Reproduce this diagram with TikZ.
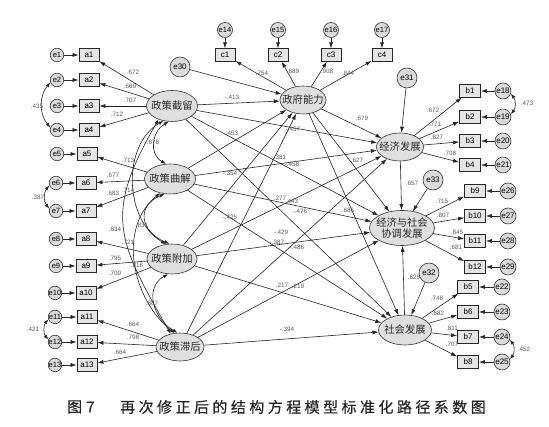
\documentclass[tikz,border=0pt]{standalone}
\usepackage{fontspec}
\setmainfont{Liberation Sans}
\newfontfamily\cjk{Noto Sans CJK SC}
\newfontfamily\capfont[LetterSpace=23,FakeBold=0.3]{Noto Sans CJK SC}
\newfontfamily\capfontA[FakeBold=0.3]{Noto Sans CJK SC}
\usetikzlibrary{shapes.geometric,arrows.meta}
\newcommand\mz[1]{\makebox[0pt]{#1}}
\newcommand\lb[4]{\node[lbl] (#1) at (#2,#3) {#4};}
\tikzset{
  lat/.style={ellipse, draw=black!80, fill=gray!25, line width=0.6pt, inner sep=0pt},
  lattxt/.style={font=\cjk\fontsize{10.3}{11.5}\selectfont, text=black!85, inner sep=0pt},
  obs/.style={rectangle, draw=black!85, fill=gray!20, line width=0.8pt, minimum width=20pt, minimum height=12.5pt, inner sep=0pt, font=\fontsize{8}{8}\selectfont},
  err/.style={circle, draw=black!80, fill=gray!28, line width=0.6pt, minimum size=13.5pt, inner sep=0pt, font=\fontsize{7.6}{8}\selectfont},
  errR/.style={err, minimum size=16pt, font=\fontsize{8}{8}\selectfont},
  dist/.style={err, minimum size=20pt, font=\fontsize{8}{8}\selectfont},
  pth/.style={-{Latex[length=6pt,width=4pt]}, line width=0.6pt, draw=black!85},
  cov/.style={{Latex[length=5pt,width=3.6pt]}-{Latex[length=5pt,width=3.6pt]}, line width=0.6pt, draw=black!85},
  lbl/.style={font=\fontsize{6.3}{7}\selectfont, text=black!65, inner sep=0pt},
}
\begin{document}
\begin{tikzpicture}[x=1pt,y=1pt]
\useasboundingbox (0,0) rectangle (549,427);
\fill[white] (0,0) rectangle (549,427);
% ---------- latent variables
\node[lat, minimum width=51pt, minimum height=31pt, label={[lattxt]center:政策截留}] (J) at (172,321) {};
\node[lat, minimum width=51pt, minimum height=30pt, label={[lattxt]center:政策曲解}] (Q) at (170,248) {};
\node[lat, minimum width=50pt, minimum height=30pt, label={[lattxt]center:政策附加}] (F) at (172,168) {};
\node[lat, minimum width=48pt, minimum height=28pt, label={[lattxt]center:政策滞后}] (Z) at (180,80) {};
\node[lat, minimum width=46pt, minimum height=28pt, label={[lattxt]center:政府能力}] (G) at (303,327) {};
\node[lat, minimum width=47pt, minimum height=28pt, label={[lattxt]center:经济发展}] (E) at (400,280) {};
\node[lat, minimum width=65pt, minimum height=35pt, label={[lattxt,align=center]center:{经济与社会\\协调发展}}] (X) at (402,199) {};
\node[lat, minimum width=53pt, minimum height=30pt, label={[lattxt]center:社会发展}] (S) at (405,97) {};
% ---------- disturbances
\node[dist] (e30) at (180,360) {e30};
\node[dist] (e31) at (407,349) {e31};
\node[dist] (e33) at (433,247) {e33};
\node[dist] (e32) at (429,154) {e32};
% ---------- left indicators
\foreach \i/\ex/\ax/\y in {1/57/89/372,2/57/89/347,3/57/89/321,4/57/89/297,5/57/87/273,6/56/86/244,7/56/86/216,8/56/86/188,9/56/86/161,10/55/86/134,11/55/87/110,12/55/87/85,13/55/87/62}{
  \node[err] (e\i) at (\ex,\y) {\mz{e\i}};
  \node[obs] (a\i) at (\ax,\y) {a\i};
  \draw[pth] (e\i) -- (a\i);
}
% ---------- top indicators
\foreach \i/\e/\x in {1/14/225,2/15/278,3/16/331,4/17/382}{
  \node[err, minimum size=15pt] (e\e) at (\x,397) {\mz{e\e}};
  \node[obs] (c\i) at (\x,372) {c\i};
  \draw[pth] (e\e) -- (c\i);
  \draw[pth] (G) -- (c\i);
}
% ---------- right indicators
\foreach \i/\e/\bx/\ex/\y/\src in {1/18/470/503/336/E,2/19/470/503/310/E,3/20/470/503/286/E,4/21/470/503/262/E,9/26/475/508/236/X,10/27/475/508/211/X,11/28/475/508/186/X,12/29/475/508/160/X,5/22/468/502/140/S,6/23/468/502/115/S,7/24/468/502/90/S,8/25/468/502/65/S}{
  \node[obs, minimum width=21pt] (b\i) at (\bx,\y) {b\i};
  \node[errR] (e\e) at (\ex,\y) {\mz{e\e}};
  \draw[pth] (e\e) -- (b\i);
  \draw[pth] (\src) -- (b\i);
}
% ---------- loadings of policy latents
\foreach \i in {1,2,3,4} \draw[pth] (J) -- (a\i);
\foreach \i in {5,6,7} \draw[pth] (Q) -- (a\i);
\foreach \i in {8,9,10} \draw[pth] (F) -- (a\i);
\foreach \i in {11,12,13} \draw[pth] (Z) -- (a\i);
% ---------- structural paths
\foreach \s in {J,Q,F,Z}{
  \foreach \t in {G,E,X,S}{ \draw[pth] (\s) -- (\t); }
}
\draw[pth] (G) -- (E);
\draw[pth] (G) -- (X);
\draw[pth] (G) -- (S);
\draw[pth] (E) -- (X);
\draw[pth] (S) -- (X);
\draw[pth] (e30) -- (G);
\draw[pth] (e31) -- (E);
\draw[pth] (e33) -- (X);
\draw[pth] (e32) -- (S);
% ---------- error covariances
\draw[cov] (e2.200) to[bend right=40] (e4.160);
\draw[cov] (e6.200) to[bend right=40] (e7.160);
\draw[cov] (e11.200) to[bend right=40] (e12.160);
\draw[cov] (e18.-20) to[bend left=40] (e19.20);
\draw[cov] (e24.-20) to[bend left=40] (e25.20);
% ---------- latent covariances
\draw[cov] (J.258) to[out=210,in=150,looseness=1.2] (Q.105);
\draw[cov] (J.240) to[out=210,in=150] (F.112);
\draw[cov] (J.225) to[out=240,in=120,looseness=1.3] (Z.125);
\draw[cov] (Q.250) to[out=203,in=157,looseness=1.6] (F.100);
\draw[cov] (Q.235) to[out=219,in=141] (Z.112);
\draw[cov] (F.255) to[out=210,in=150,looseness=1.2] (Z.100);
% ---------- coefficient labels
\lb{l1}{232}{330}{-.413}
\lb{l2}{232}{294}{.453}
\lb{l3}{293}{298}{-.457}
\lb{l4}{280}{270}{.381}
\lb{l5}{292}{263}{-.458}
\lb{l6}{230}{254}{-.354}
\lb{l7}{280}{229}{.277}
\lb{l8}{292}{226}{.443}
\lb{l9}{300}{216}{-.476}
\lb{l10}{348}{217}{.686}
\lb{l11}{357}{267}{.627}
\lb{l12}{230}{210}{-.425}
\lb{l13}{281}{195}{-.429}
\lb{l14}{277}{185}{-.387}
\lb{l15}{297}{180}{-.486}
\lb{l16}{282}{142}{.217}
\lb{l17}{298}{141}{.219}
\lb{l18}{287}{98}{-.394}
\lb{l19}{362}{309}{.679}
\lb{l20}{412}{244}{.657}
\lb{l21}{414}{150}{.625}
\lb{l22}{262}{354}{.754}
\lb{l23}{293}{356}{.889}
\lb{l24}{327}{356}{.908}
\lb{l25}{348}{354}{.844}
\lb{l26}{133}{355}{.672}
\lb{l27}{130}{341}{.669}
\lb{l28}{130}{327}{.707}
\lb{l29}{117}{313}{.712}
\lb{l30}{128}{267}{.713}
\lb{l31}{113}{252}{.677}
\lb{l32}{113}{234}{.683}
\lb{l33}{128}{237}{.714}
\lb{l34}{115}{198}{.634}
\lb{l35}{128}{185}{.721}
\lb{l36}{142}{202}{.831}
\lb{l37}{115}{169}{.795}
\lb{l38}{137}{162}{.816}
\lb{l39}{115}{154}{.709}
\lb{l40}{152}{124}{.887}
\lb{l41}{133}{103}{.664}
\lb{l42}{133}{90}{.798}
\lb{l43}{120}{75}{.664}
\lb{l44}{153}{285}{.878}
\lb{l45}{433}{317}{.672}
\lb{l46}{435}{303}{.771}
\lb{l47}{437}{290}{.827}
\lb{l48}{450}{274}{.708}
\lb{l49}{442}{226}{.715}
\lb{l50}{443}{212}{.807}
\lb{l51}{457}{195}{.845}
\lb{l52}{456}{180}{.681}
\lb{l53}{437}{129}{.748}
\lb{l54}{438}{114}{.682}
\lb{l55}{452}{99}{.811}
\lb{l56}{452}{83}{.707}
\lb{l57}{37}{321}{.435}
\lb{l58}{38}{230}{.387}
\lb{l59}{33}{98}{.421}
\lb{l60}{527}{324}{.473}
\lb{l61}{524}{78}{.452}
% ---------- caption
\node[anchor=west, inner sep=0pt, font=\capfontA\fontsize{15}{16}\selectfont, text=black!85] (capA) at (67,20) {图\hspace{4pt}7};
\node[anchor=west, inner sep=0pt, font=\capfont\fontsize{15}{16}\selectfont, text=black!85] (capB) at (120,20) {再次修正后的结构方程模型标准化路径系数图};
\end{tikzpicture}
\end{document}
